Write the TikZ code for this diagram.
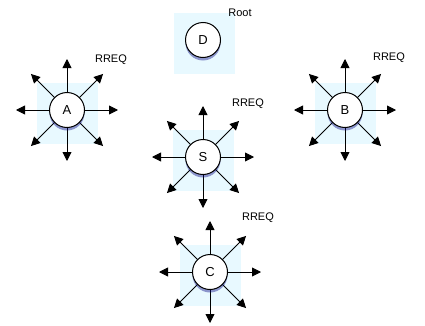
\documentclass[tikz,border=0pt]{standalone}
\usepackage{fontspec}
\setmainfont{Liberation Sans}
\usetikzlibrary{arrows.meta, shadows}

\definecolor{halo}{RGB}{232,249,255}

\tikzset{
  station/.style={circle, draw=black, line width=1pt, fill=white,
    minimum size=35pt, inner sep=0pt, font=\fontsize{13}{15}\selectfont,
    drop shadow={shadow xshift=0pt, shadow yshift=-3pt, fill=blue!50!black, opacity=0.4}},
  haloBox/.style={rectangle, fill=halo, minimum size=61pt, inner sep=0pt},
  ray/.style={line width=0.9pt, -{Triangle[length=9pt,width=9pt]}},
  tag/.style={font=\fontsize{11}{13}\selectfont}
}

\begin{document}
\begin{tikzpicture}[x=1pt,y=1pt]

  \useasboundingbox (0,0) rectangle (425,325);

  % Backgrounds
  \node[haloBox] (D-bg) at (204,282) {};
  \node[haloBox] (A-bg) at (67,212) {};
  \node[haloBox] (B-bg) at (345,212) {};
  \node[haloBox] (S-bg) at (203,165) {};
  \node[haloBox] (C-bg) at (210,50) {};

  % Rays of the flooded request
  \foreach \n/\x/\y in {A/67/215, B/345/215, S/203/168, C/210/53}{
    \foreach \a in {0,45,...,315}{
      \coordinate (\n\a) at ([shift={(\a:51)}]\x,\y);
      \draw[ray] (\x,\y) -- (\n\a);
    }
  }

  % Stations
  \node[station] (D) at (203,285) {D};
  \node[station] (A) at (67,215) {A};
  \node[station] (B) at (345,215) {B};
  \node[station] (S) at (203,168) {S};
  \node[station] (C) at (210,53) {C};

  % Labels
  \node[tag] (root) at (240,312) {Root};
  \node[tag] (A-req) at (111,265) {RREQ};
  \node[tag] (B-req) at (389,267) {RREQ};
  \node[tag] (S-req) at (248,221) {RREQ};
  \node[tag] (C-req) at (258,107) {RREQ};

\end{tikzpicture}
\end{document}
